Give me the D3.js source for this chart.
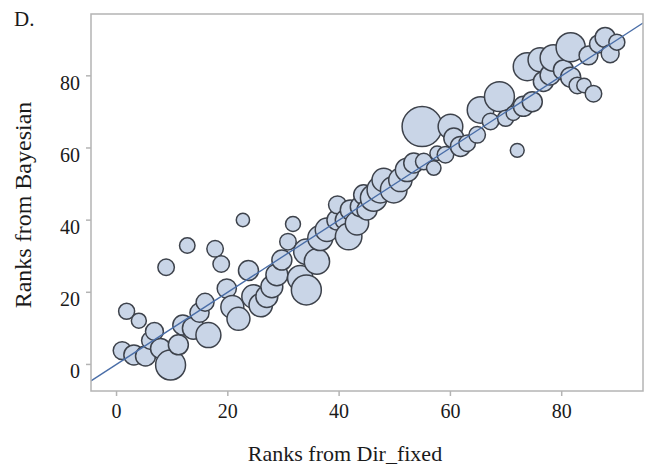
<!DOCTYPE html>
<html>
<head>
<meta charset="utf-8">
<script src="https://cdn.jsdelivr.net/npm/d3@7"></script>
<style>
  html, body { margin: 0; padding: 0; background: #fff; }
  svg { display: block; }
  text { font-family: "Liberation Serif", "Times New Roman", serif; fill: #1a1a1a; }
</style>
</head>
<body>
<svg id="chart" width="653" height="474"></svg>
<script>
// Ranks of each unit under the two models; bubble area ~ weight
const rankDirFixed = [
  1.1, 1.9, 3.2, 4.1, 5.3, 6.2, 6.9, 8.0, 9.0, 9.8,
  11.2, 12.0, 12.8, 13.9, 15.0, 16.0, 16.6, 17.8, 18.9, 19.9,
  20.9, 22.0, 22.8, 23.8, 24.7, 26.0, 27.1, 28.0, 28.9, 29.8,
  30.9, 31.8, 33.1, 34.2, 34.2, 36.1, 36.7, 37.9, 39.7, 39.8,
  41.2, 41.8, 42.1, 43.3, 43.9, 44.5, 45.1, 46.3, 47.5, 48.1,
  49.9, 51.1, 52.3, 53.5, 55.0, 55.3, 57.1, 57.7, 59.2, 60.1,
  60.7, 61.9, 63.1, 64.9, 65.5, 67.3, 68.9, 70.0, 71.4, 72.1,
  73.2, 73.9, 74.8, 76.2, 76.8, 78.0, 78.6, 80.4, 81.7, 81.7,
  82.9, 84.1, 84.9, 85.8, 86.7, 87.9, 88.8, 90.0
];
const rankBayesian = [
  3.7, 14.6, 2.5, 12.0, 2.2, 6.5, 9.0, 4.3, 26.8, -0.3,
  5.3, 10.8, 32.8, 9.9, 14.2, 17.1, 8.0, 31.9, 27.7, 20.9,
  15.8, 12.5, 39.9, 25.9, 18.7, 16.3, 18.7, 21.4, 24.7, 28.8,
  33.9, 38.8, 23.8, 20.5, 31.1, 28.4, 34.9, 37.2, 39.9, 44.1,
  39.9, 35.3, 42.7, 39.0, 43.6, 46.9, 42.7, 46.0, 48.3, 51.0,
  48.3, 51.0, 53.8, 55.7, 65.8, 56.1, 54.3, 58.4, 58.0, 65.8,
  62.6, 60.3, 61.2, 63.5, 70.4, 67.2, 74.1, 68.1, 69.5, 59.2,
  71.4, 82.4, 72.7, 84.3, 78.3, 80.1, 84.8, 81.5, 87.8, 79.5,
  77.2, 77.2, 85.5, 74.9, 88.7, 90.5, 86.0, 89.2
];
const weights = [
  20, 16, 25, 14, 25, 20, 20, 25, 17, 56,
  25, 25, 15, 30, 23, 20, 39, 17, 17, 23,
  33, 33, 11, 25, 34, 34, 30, 30, 30, 25,
  17, 14, 40, 56, 40, 40, 39, 34, 25, 20,
  25, 44, 25, 34, 25, 25, 25, 44, 44, 34,
  44, 34, 34, 25, 100, 17, 13, 13, 17, 38,
  25, 25, 17, 17, 44, 17, 56, 16, 13, 12,
  25, 49, 25, 36, 25, 25, 44, 25, 53, 25,
  17, 13, 22, 17, 20, 25, 20, 16
];

// Fitted line: Bayesian = intercept + slope * Dir_fixed
const fitIntercept = [-0.2];
const fitSlope = [1.0];

const xTicks = [0, 20, 40, 60, 80];
const yTicks = [0, 20, 40, 60, 80];
const xDomain = [-4.5, 94.7];
const yDomain = [-7.5, 97];

const panelLabel = "D.";
const xTitle = "Ranks from Dir_fixed";
const yTitle = "Ranks from Bayesian";

const svg = d3.select("#chart");
const frame = { left: 91, right: 643, top: 14, bottom: 391 };

const x = d3.scaleLinear().domain(xDomain).range([frame.left, frame.right]);
const y = d3.scaleLinear().domain(yDomain).range([frame.bottom, frame.top]);
const r = d3.scaleSqrt().domain([0, 100]).range([0, 20]);

const points = rankDirFixed.map((v, i) => ({ x: v, y: rankBayesian[i], w: weights[i] }));

svg.append("clipPath").attr("id", "plot-clip")
  .append("rect")
  .attr("x", frame.left).attr("y", frame.top)
  .attr("width", frame.right - frame.left)
  .attr("height", frame.bottom - frame.top);

const plot = svg.append("g").attr("clip-path", "url(#plot-clip)");

plot.selectAll("circle.bubble")
  .data(points)
  .join("circle")
  .attr("class", "bubble")
  .attr("cx", d => x(d.x))
  .attr("cy", d => y(d.y))
  .attr("r", d => r(d.w))
  .attr("fill", "#c9d5e7")
  .attr("stroke", "#3d424b")
  .attr("stroke-width", 1.5);

const fitLine = d3.line().x(d => x(d)).y(d => y(fitIntercept[0] + fitSlope[0] * d));
plot.append("path")
  .datum(xDomain)
  .attr("d", fitLine)
  .attr("fill", "none")
  .attr("stroke", "#4a6ea8")
  .attr("stroke-width", 1.4);

// Plot frame
svg.append("rect")
  .attr("x", frame.left).attr("y", frame.top)
  .attr("width", frame.right - frame.left)
  .attr("height", frame.bottom - frame.top)
  .attr("fill", "none")
  .attr("stroke", "#b4b4b4")
  .attr("stroke-width", 1.5);

// Axes
const xAxis = svg.append("g")
  .attr("transform", `translate(0,${frame.bottom})`)
  .call(d3.axisBottom(x).tickValues(xTicks).tickSize(5).tickPadding(8).tickFormat(d3.format("d")));
xAxis.select(".domain").remove();
xAxis.selectAll(".tick line").attr("stroke", "#b4b4b4").attr("stroke-width", 1.5);
xAxis.selectAll(".tick text")
  .attr("font-family", "Liberation Serif, serif")
  .attr("font-size", 20)
  .attr("fill", "#1a1a1a");

const yAxis = svg.append("g")
  .attr("transform", `translate(${frame.left},0)`)
  .call(d3.axisLeft(y).tickValues(yTicks).tickSize(5).tickPadding(6).tickFormat(d3.format("d")));
yAxis.select(".domain").remove();
yAxis.selectAll(".tick line").attr("stroke", "#b4b4b4").attr("stroke-width", 1.5);
yAxis.selectAll(".tick text")
  .attr("font-family", "Liberation Serif, serif")
  .attr("font-size", 20)
  .attr("fill", "#1a1a1a")
  .attr("dy", "0.7em");

// Titles
svg.append("text")
  .attr("x", 345).attr("y", 461)
  .attr("text-anchor", "middle")
  .attr("font-size", 22)
  .text(xTitle);

svg.append("text")
  .attr("transform", "translate(31,205) rotate(-90)")
  .attr("text-anchor", "middle")
  .attr("font-size", 24)
  .text(yTitle);

svg.append("text")
  .attr("x", 14).attr("y", 26)
  .attr("font-size", 21)
  .text(panelLabel);
</script>
</body>
</html>
